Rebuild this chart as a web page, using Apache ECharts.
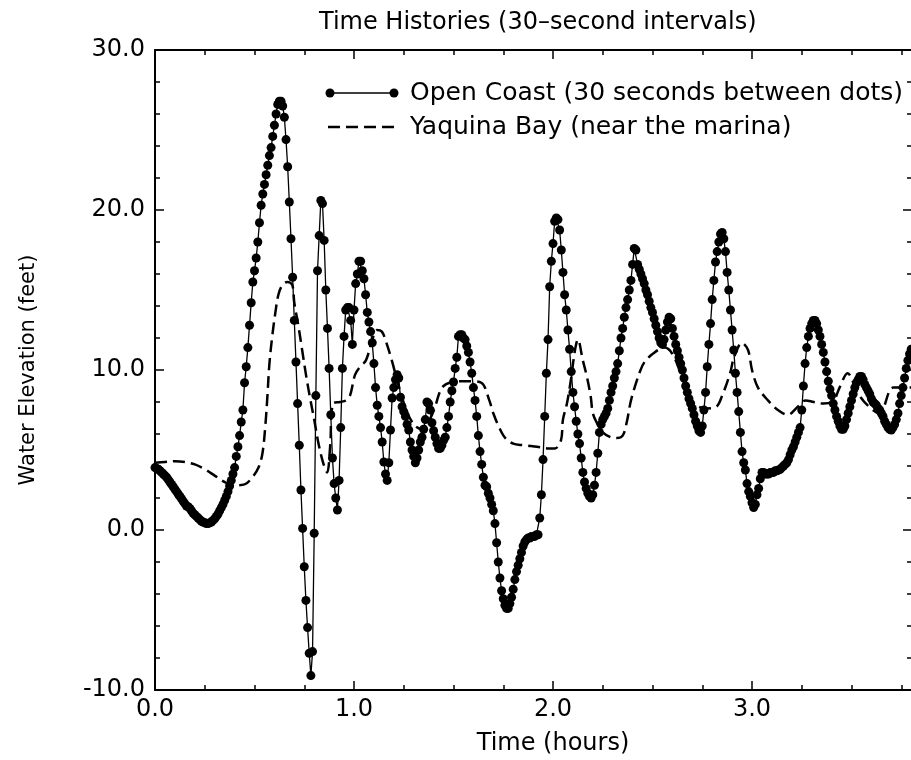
<!DOCTYPE html>
<html>
<head>
<meta charset="utf-8">
<script src="https://cdn.jsdelivr.net/npm/echarts@6/dist/echarts.min.js"></script>
<style>
  html, body { margin: 0; padding: 0; background: #fff; }
  #chart { width: 911px; height: 760px; }
</style>
</head>
<body>
<div id="chart"></div>
<script>
// open coast gauge, one reading every 30 s (feet), starting at t = 0
const STEP_HOURS = 1 / 120;
const openCoast = [
  3.9, 3.85, 3.8, 3.7, 3.6, 3.5, 3.4, 3.3, 3.15, 3.0, 2.85, 2.7, 2.55, 2.4, 2.25, 2.1, 1.95, 1.8, 1.65, 1.5,
  1.45, 1.35, 1.2, 1.05, 0.95, 0.85, 0.75, 0.65, 0.55, 0.5, 0.45, 0.4, 0.4, 0.45, 0.5, 0.6, 0.7, 0.85, 1.0, 1.2,
  1.4, 1.6, 1.85, 2.1, 2.4, 2.75, 3.1, 3.5, 3.9, 4.6, 5.2, 5.9, 6.75, 7.5, 9.2, 10.2, 11.4, 12.8, 14.2, 15.5,
  16.2, 17.0, 18.0, 19.2, 20.3, 21.0, 21.6, 22.2, 22.8, 23.4, 23.9, 24.6, 25.3, 26.0, 26.6, 26.8, 26.8, 26.5, 25.8, 24.4,
  22.7, 20.5, 18.2, 15.8, 13.1, 10.5, 7.9, 5.3, 2.5, 0.1, -2.3, -4.4, -6.1, -7.7, -9.1, -7.6, -0.2, 8.4, 16.2, 18.4,
  20.6, 20.4, 18.1, 15.0, 12.6, 10.1, 7.2, 4.5, 2.9, 2.0, 1.25, 3.1, 6.4, 10.1, 12.1, 13.75, 13.9, 13.9, 13.1, 11.6,
  13.75, 15.4, 16.0, 16.8, 16.8, 16.2, 15.7, 14.7, 13.6, 13.0, 12.4, 11.7, 10.4, 8.9, 7.8, 7.1, 6.4, 5.5, 4.25, 3.5,
  3.1, 4.2, 6.25, 8.25, 8.9, 9.4, 9.7, 9.5, 8.3, 7.7, 7.4, 7.1, 6.6, 6.25, 5.5, 5.0, 4.6, 4.2, 4.5, 5.0,
  5.5, 5.8, 6.3, 6.9, 8.0, 7.9, 7.5, 6.7, 6.2, 5.8, 5.4, 5.1, 5.1, 5.3, 5.6, 5.8, 6.4, 7.1, 8.0, 8.7,
  9.25, 10.1, 10.8, 12.1, 12.2, 12.2, 12.0, 11.9, 11.5, 11.1, 10.5, 9.8, 8.9, 8.1, 7.1, 5.9, 4.9, 4.1, 3.3, 2.8,
  2.7, 2.3, 2.0, 1.6, 1.2, 0.4, -0.8, -2.0, -3.0, -3.8, -4.3, -4.7, -4.9, -4.9, -4.6, -4.2, -3.7, -3.1, -2.6, -2.2,
  -1.8, -1.4, -1.0, -0.75, -0.6, -0.5, -0.5, -0.4, -0.4, -0.4, -0.3, -0.3, 0.75, 2.2, 4.4, 7.1, 9.8, 11.9, 15.2, 16.8,
  17.9, 19.3, 19.5, 19.4, 18.75, 17.5, 16.1, 14.7, 13.75, 12.5, 11.3, 9.9, 8.6, 7.7, 6.8, 6.0, 5.4, 4.5, 3.6, 3.0,
  2.6, 2.3, 2.1, 2.0, 2.2, 2.8, 3.6, 4.8, 6.1, 6.6, 6.9, 7.1, 7.3, 7.6, 8.1, 8.6, 9.0, 9.5, 9.9, 10.4,
  11.2, 12.0, 12.6, 13.3, 13.9, 14.4, 15.0, 15.6, 16.6, 17.6, 17.5, 16.6, 16.3, 16.0, 15.7, 15.4, 15.0, 14.7, 14.3, 13.9,
  13.6, 13.2, 12.8, 12.4, 12.0, 11.7, 11.6, 11.9, 12.5, 13.0, 13.3, 13.2, 12.6, 12.1, 11.6, 11.2, 10.8, 10.4, 10.0, 9.5,
  9.0, 8.6, 8.2, 7.9, 7.6, 7.2, 6.8, 6.5, 6.2, 6.1, 6.5, 7.5, 8.6, 10.2, 11.6, 12.9, 14.4, 15.6, 16.75, 17.4,
  18.0, 18.5, 18.6, 18.2, 17.4, 16.1, 15.0, 13.75, 12.5, 11.25, 9.8, 8.6, 7.4, 6.1, 4.9, 4.2, 3.75, 2.9, 2.4, 2.1,
  1.7, 1.4, 1.6, 2.2, 2.6, 3.2, 3.6, 3.6, 3.5, 3.5, 3.5, 3.6, 3.6, 3.6, 3.7, 3.7, 3.75, 3.8, 3.9, 4.0,
  4.1, 4.2, 4.4, 4.7, 5.0, 5.2, 5.5, 5.8, 6.1, 6.4, 7.5, 9.0, 10.4, 11.4, 12.1, 12.6, 12.9, 13.1, 13.1, 12.9,
  12.5, 12.1, 11.6, 11.1, 10.5, 9.9, 9.3, 8.8, 8.4, 7.9, 7.5, 7.1, 6.8, 6.5, 6.3, 6.3, 6.5, 6.9, 7.3, 7.7,
  8.1, 8.5, 8.9, 9.2, 9.4, 9.6, 9.6, 9.4, 9.1, 8.9, 8.7, 8.5, 8.2, 8.0, 7.9, 7.8, 7.6, 7.5, 7.3, 7.1,
  6.8, 6.6, 6.4, 6.3, 6.25, 6.4, 6.6, 6.9, 7.3, 7.9, 8.4, 8.9, 9.5, 10.1, 10.6, 11.0, 11.3
];

// Yaquina Bay gauge (hours, feet)
const bayTimes = [
  0.00, 0.05, 0.10, 0.15, 0.20, 0.25, 0.30, 0.35, 0.40, 0.45, 0.49, 0.52, 0.54, 0.555, 0.565, 0.575, 0.59, 0.605, 0.62, 0.64,
  0.665, 0.69, 0.70, 0.72, 0.74, 0.76, 0.78, 0.80, 0.82, 0.845, 0.865, 0.88, 0.895, 0.93, 0.96, 0.98, 1.005, 1.03, 1.06, 1.09,
  1.115, 1.14, 1.16, 1.19, 1.22, 1.26, 1.30, 1.34, 1.38, 1.41, 1.43, 1.45, 1.48, 1.53, 1.58, 1.64, 1.68, 1.70, 1.73, 1.76,
  1.80, 1.85, 1.92, 1.98, 2.01, 2.04, 2.05, 2.07, 2.09, 2.11, 2.125, 2.15, 2.17, 2.19, 2.20, 2.22, 2.25, 2.29, 2.32, 2.35,
  2.37, 2.39, 2.41, 2.44, 2.46, 2.50, 2.56, 2.60, 2.65, 2.68, 2.72, 2.77, 2.82, 2.85, 2.89, 2.91, 2.95, 2.98, 3.00, 3.03,
  3.08, 3.13, 3.18, 3.23, 3.27, 3.31, 3.36, 3.41, 3.44, 3.48, 3.53, 3.58, 3.64, 3.71, 3.78, 3.8
];
const bayLevels = [
  4.2, 4.25, 4.3, 4.25, 4.1, 3.8, 3.4, 3.0, 2.8, 2.85, 3.3, 3.9, 4.8, 6.6, 8.4, 10.4, 12.2, 13.6, 14.7, 15.3,
  15.5, 15.3, 14.2, 12.8, 11.2, 9.6, 8.2, 6.9, 5.5, 4.2, 3.6, 5.2, 7.9, 8.0, 8.1, 8.4, 9.7, 10.2, 10.6, 11.8,
  12.5, 12.4, 11.8, 10.6, 9.2, 7.6, 6.6, 6.3, 6.9, 7.8, 8.6, 9.0, 9.2, 9.3, 9.3, 9.2, 8.1, 7.3, 6.4, 5.75,
  5.4, 5.3, 5.2, 5.1, 5.1, 5.6, 6.9, 7.9, 9.4, 11.2, 11.9, 10.6, 9.6, 8.3, 7.3, 6.7, 6.1, 5.8, 5.75, 5.9,
  6.7, 8.0, 8.9, 10.0, 10.5, 11.0, 11.4, 11.0, 9.5, 8.5, 7.8, 7.6, 7.7, 8.4, 9.8, 10.8, 11.7, 11.25, 10.0, 8.9,
  8.1, 7.5, 7.2, 7.7, 8.1, 8.0, 7.9, 8.1, 8.9, 9.8, 8.6, 7.8, 7.3, 8.9, 8.9, 8.9
];

const xTickValues = [0, 1, 2, 3];
const yTickValues = [-10, 0, 10, 20, 30];

const FONT = '"DejaVu Sans", "Liberation Sans", sans-serif';
const INK = "#000";

const coastData = openCoast.map((v, i) => [i * STEP_HOURS, v]);
const bayData = bayTimes.map((t, i) => [t, bayLevels[i]]);

const chart = echarts.init(document.getElementById("chart"), null, { renderer: "canvas" });

const tickStyle = { color: INK, width: 1.5 };
const baseAxis = {
  axisLine: { show: true, onZero: false, lineStyle: { color: INK, width: 2 } },
  axisTick: { show: true, inside: true, length: 9, lineStyle: tickStyle },
  minorTick: { show: true, length: 5, lineStyle: tickStyle },
  splitLine: { show: false },
  nameMoveOverlap: false,
};

chart.setOption({
  backgroundColor: "#fff",
  animation: false,
  title: {
    text: "Time Histories (30\u2013second intervals)",
    left: 314,
    top: 6,
    textStyle: { color: INK, fontSize: 24, fontWeight: "normal", fontFamily: FONT },
  },
  // plot extends to 4 h; the picture is cut at about 3.8 h
  grid: { left: 155, top: 50, right: -40, bottom: 70, outerBoundsMode: "none" },
  xAxis: [
    {
      ...baseAxis,
      type: "value",
      min: 0,
      max: 4,
      interval: 1,
      minorTick: { ...baseAxis.minorTick, splitNumber: 4 },
      axisLabel: {
        color: INK,
        fontSize: 24,
        fontFamily: FONT,
        margin: 8,
        showMaxLabel: false,
        formatter: (v) => (xTickValues.includes(v) ? v.toFixed(1) : ""),
      },
      name: "Time (hours)",
      nameLocation: "middle",
      nameGap: 42,
      nameTextStyle: { color: INK, fontSize: 24, fontFamily: FONT },
    },
    {
      ...baseAxis,
      type: "value",
      position: "top",
      min: 0,
      max: 4,
      interval: 1,
      minorTick: { ...baseAxis.minorTick, splitNumber: 4 },
      axisLabel: { show: false },
    },
  ],
  yAxis: [
    {
      ...baseAxis,
      type: "value",
      min: -10,
      max: 30,
      interval: 10,
      minorTick: { ...baseAxis.minorTick, splitNumber: 5 },
      axisLabel: {
        color: INK,
        fontSize: 24,
        fontFamily: FONT,
        margin: 10,
        formatter: (v) => (yTickValues.includes(v) ? v.toFixed(1) : ""),
      },
      name: "Water Elevation (feet)",
      nameLocation: "middle",
      nameRotate: 90,
      nameGap: 116,
      nameTextStyle: { color: INK, fontSize: 21, fontFamily: FONT },
    },
    {
      ...baseAxis,
      type: "value",
      position: "right",
      offset: -39,
      min: -10,
      max: 30,
      interval: 10,
      minorTick: { ...baseAxis.minorTick, splitNumber: 5 },
      axisLabel: { show: false },
    },
  ],
  series: [
    {
      name: "Yaquina Bay (near the marina)",
      type: "line",
      data: bayData,
      smooth: 0.35,
      symbol: "none",
      lineStyle: { color: INK, width: 2.5, type: [12, 6] },
      z: 2,
    },
    {
      name: "Open Coast (30 seconds between dots)",
      type: "line",
      data: coastData,
      symbol: "circle",
      symbolSize: 9,
      showAllSymbol: true,
      itemStyle: { color: INK },
      lineStyle: { color: INK, width: 1.3 },
      z: 3,
    },
  ],
  graphic: [
    { type: "line", shape: { x1: 330, y1: 93, x2: 394, y2: 93 }, style: { stroke: INK, lineWidth: 1.3 } },
    { type: "circle", shape: { cx: 330, cy: 93, r: 4.5 }, style: { fill: INK } },
    { type: "circle", shape: { cx: 394, cy: 93, r: 4.5 }, style: { fill: INK } },
    {
      type: "text", x: 410, y: 93,
      style: { text: "Open Coast (30 seconds between dots)", font: "25px " + FONT, fill: INK, verticalAlign: "middle" },
    },
    {
      type: "line", shape: { x1: 328, y1: 127, x2: 394, y2: 127 },
      style: { stroke: INK, lineWidth: 2.5, lineDash: [12, 6] },
    },
    {
      type: "text", x: 410, y: 127,
      style: { text: "Yaquina Bay (near the marina)", font: "25px " + FONT, fill: INK, verticalAlign: "middle" },
    },
  ],
});

window.addEventListener("resize", () => chart.resize());
</script>
</body>
</html>
